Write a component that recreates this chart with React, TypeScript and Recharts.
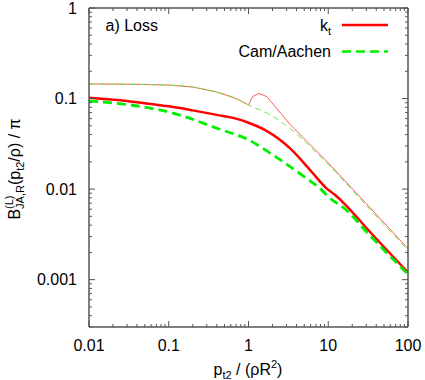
import React from 'react';
import { LineChart, Line, XAxis, YAxis, Customized } from 'recharts';

// ---- data ----
const ktX = [0.01, 0.03, 0.06, 0.1, 0.2, 0.4, 0.7, 1.0, 1.6, 3.3, 6.2, 9.5, 12, 15.4, 33, 100];
const ktY = [0.102, 0.094, 0.087, 0.082, 0.074, 0.066, 0.06, 0.054, 0.045, 0.0283, 0.0155, 0.0102, 0.0087, 0.0071, 0.0034, 0.0012];

const camX = [0.01, 0.03, 0.06, 0.1, 0.16, 0.4, 1.0, 2.0, 5.3, 7.85, 10.4, 16, 33, 100];
const camY = [0.094, 0.086, 0.078, 0.071, 0.063, 0.047, 0.035, 0.024, 0.0132, 0.0102, 0.008, 0.0061, 0.0031, 0.00115];

const ktThinX = [0.01, 0.03, 0.1, 0.2, 0.4, 0.7, 1.0, 1.12, 1.35, 1.7, 3.3, 10, 30, 100];
const ktThinY = [0.145, 0.144, 0.141, 0.134, 0.118, 0.1, 0.085, 0.105, 0.114, 0.105, 0.052, 0.0195, 0.0069, 0.0022];

const camThinX = [0.01, 0.03, 0.1, 0.2, 0.4, 0.7, 1.0, 2.0, 3.3, 6, 12.7, 30, 100];
const camThinY = [0.145, 0.144, 0.141, 0.134, 0.118, 0.1, 0.085, 0.064, 0.047, 0.029, 0.015, 0.0066, 0.0021];

const xMajor = [0.01, 0.1, 1, 10, 100];
const xTickLabels = ['0.01', '0.1', '1', '10', '100'];
const xTicks = [
  0.01, 0.02, 0.03, 0.04, 0.05, 0.06, 0.07, 0.08, 0.09,
  0.1, 0.2, 0.3, 0.4, 0.5, 0.6, 0.7, 0.8, 0.9,
  1, 2, 3, 4, 5, 6, 7, 8, 9,
  10, 20, 30, 40, 50, 60, 70, 80, 90, 100,
];

const yMajor = [0.001, 0.01, 0.1, 1];
const yTickLabels = ['0.001', '0.01', '0.1', '1'];
const yTicks = [
  0.0003, 0.0004, 0.0005, 0.0006, 0.0007, 0.0008, 0.0009,
  0.001, 0.002, 0.003, 0.004, 0.005, 0.006, 0.007, 0.008, 0.009,
  0.01, 0.02, 0.03, 0.04, 0.05, 0.06, 0.07, 0.08, 0.09,
  0.1, 0.2, 0.3, 0.4, 0.5, 0.6, 0.7, 0.8, 0.9, 1,
];

const seriesNames = ['k', 'Cam/Aachen'];
const panelTitle = 'a) Loss';

const zip = (xs: number[], ys: number[]) => xs.map((x, i) => ({ x, y: ys[i] }));
const ktData = zip(ktX, ktY);
const camData = zip(camX, camY);
const ktThinData = zip(ktThinX, ktThinY);
const camThinData = zip(camThinX, camThinY);

// ---- styles ----
const FONT = "'Liberation Sans', Arial, Helvetica, sans-serif";
const AXIS = '#555555';
const MAJ = 6;
const MIN = 3;

function labelFor(v: number, majors: number[], labels: string[]): string | null {
  const i = majors.findIndex((m) => Math.abs(m - v) < m * 1e-6);
  return i >= 0 ? labels[i] : null;
}

const BottomTick = (p: any) => {
  const { x, y, payload } = p;
  const lab = labelFor(payload.value, xMajor, xTickLabels);
  const len = lab ? MAJ : MIN;
  return (
    <g>
      <line x1={x} y1={y} x2={x} y2={y - len} stroke={AXIS} strokeWidth={1} />
      {lab && (
        <text x={x} y={y + 24} textAnchor="middle" fontSize={16} fontFamily={FONT} fill="#000">
          {lab}
        </text>
      )}
    </g>
  );
};

const TopTick = (p: any) => {
  const { x, y, payload } = p;
  const lab = labelFor(payload.value, xMajor, xTickLabels);
  const len = lab ? MAJ : MIN;
  return <line x1={x} y1={y} x2={x} y2={y + len} stroke={AXIS} strokeWidth={1} />;
};

const LeftTick = (p: any) => {
  const { x, y, payload } = p;
  const lab = labelFor(payload.value, yMajor, yTickLabels);
  const len = lab ? MAJ : MIN;
  return (
    <g>
      <line x1={x} y1={y} x2={x + len} y2={y} stroke={AXIS} strokeWidth={1} />
      {lab && (
        <text x={x - 12} y={y + 5.7} textAnchor="end" fontSize={16} fontFamily={FONT} fill="#000">
          {lab}
        </text>
      )}
    </g>
  );
};

const RightTick = (p: any) => {
  const { x, y, payload } = p;
  const lab = labelFor(payload.value, yMajor, yTickLabels);
  const len = lab ? MAJ : MIN;
  return <line x1={x} y1={y} x2={x - len} y2={y} stroke={AXIS} strokeWidth={1} />;
};

const Overlay = () => (
  <g fontFamily={FONT} fill="#000">
    {/* panel title */}
    <text x={105.5} y={30.5} fontSize={16}>{panelTitle}</text>
    {/* legend */}
    <text x={331} y={30.5} fontSize={16} textAnchor="end">
      {seriesNames[0]}
      <tspan fontSize={11} dy={4}>t</tspan>
    </text>
    <line x1={342} y1={25} x2={388} y2={25} stroke="#ff0000" strokeWidth={2.5} />
    <text x={331} y={56.5} fontSize={16} textAnchor="end">{seriesNames[1]}</text>
    <line x1={342} y1={51.5} x2={388} y2={51.5} stroke="#00ee00" strokeWidth={2.5} strokeDasharray="9 5" />
    {/* x label */}
    <text x={248} y={375} fontSize={16} textAnchor="middle" style={{ whiteSpace: 'pre' }}>
      p<tspan fontSize={11} dy={4}>t2</tspan>
      <tspan dy={-4}>{' / (ρR'}</tspan>
      <tspan fontSize={11} dy={-7}>2</tspan>
      <tspan dy={7}>)</tspan>
    </text>
    {/* y label */}
    <g transform="translate(19.5,169) rotate(-90)">
      <text x={0} y={0} fontSize={16} textAnchor="middle" style={{ whiteSpace: 'pre' }}>
        B<tspan fontSize={11} dy={-7}>(L)</tspan>
        <tspan fontSize={11} dx={-13.4} dy={11}>JA,R</tspan>
        <tspan dy={-4}>(p</tspan>
        <tspan fontSize={11} dy={4}>t2</tspan>
        <tspan dy={-4}>{'/ρ) / π'}</tspan>
      </text>
    </g>
  </g>
);

export default function App() {
  return (
    <div style={{ position: 'absolute', left: 0, top: 0, width: 425, height: 380, background: '#fff' }}>
      <LineChart width={425} height={380} margin={{ top: 0, right: 0, bottom: 0, left: 0 }}>
        <XAxis
          xAxisId="t"
          orientation="top"
          dataKey="x"
          type="number"
          scale="log"
          domain={[0.01, 100]}
          allowDataOverflow
          ticks={xTicks}
          interval={0}
          height={8}
          tickSize={0}
          tickMargin={0}
          tickLine={false}
          tick={<TopTick />}
          axisLine={{ stroke: AXIS, strokeWidth: 1.5 }}
        />
        <XAxis
          xAxisId="b"
          orientation="bottom"
          dataKey="x"
          type="number"
          scale="log"
          domain={[0.01, 100]}
          allowDataOverflow
          ticks={xTicks}
          interval={0}
          height={53}
          tickSize={0}
          tickMargin={0}
          tickLine={false}
          tick={<BottomTick />}
          axisLine={{ stroke: AXIS, strokeWidth: 1.5 }}
        />
        <YAxis
          yAxisId="l"
          orientation="left"
          dataKey="y"
          type="number"
          scale="log"
          domain={[0.0003, 1]}
          allowDataOverflow
          ticks={yTicks}
          interval={0}
          width={89}
          tickSize={0}
          tickMargin={0}
          tickLine={false}
          tick={<LeftTick />}
          axisLine={{ stroke: AXIS, strokeWidth: 1.5 }}
        />
        <YAxis
          yAxisId="r"
          orientation="right"
          dataKey="y"
          type="number"
          scale="log"
          domain={[0.0003, 1]}
          allowDataOverflow
          ticks={yTicks}
          interval={0}
          width={17}
          tickSize={0}
          tickMargin={0}
          tickLine={false}
          tick={<RightTick />}
          axisLine={{ stroke: AXIS, strokeWidth: 1.5 }}
        />
        <Line
          xAxisId="b"
          yAxisId="l"
          data={ktData}
          dataKey="y"
          type="monotone"
          stroke="#ff0000"
          strokeWidth={2.5}
          dot={false}
          activeDot={false}
          isAnimationActive={false}
        />
        <Line
          xAxisId="b"
          yAxisId="l"
          data={camData}
          dataKey="y"
          type="monotone"
          stroke="#00ee00"
          strokeWidth={2.8}
          strokeDasharray="9 5"
          dot={false}
          activeDot={false}
          isAnimationActive={false}
        />
        <Line
          xAxisId="b"
          yAxisId="l"
          data={ktThinData}
          dataKey="y"
          type="linear"
          stroke="#ff5a5a"
          strokeWidth={1}
          dot={false}
          activeDot={false}
          isAnimationActive={false}
        />
        <Line
          xAxisId="b"
          yAxisId="l"
          data={camThinData}
          dataKey="y"
          type="monotone"
          stroke="#66ee44"
          strokeWidth={1}
          strokeDasharray="6 4"
          dot={false}
          activeDot={false}
          isAnimationActive={false}
        />
        <Customized component={Overlay} />
      </LineChart>
    </div>
  );
}
